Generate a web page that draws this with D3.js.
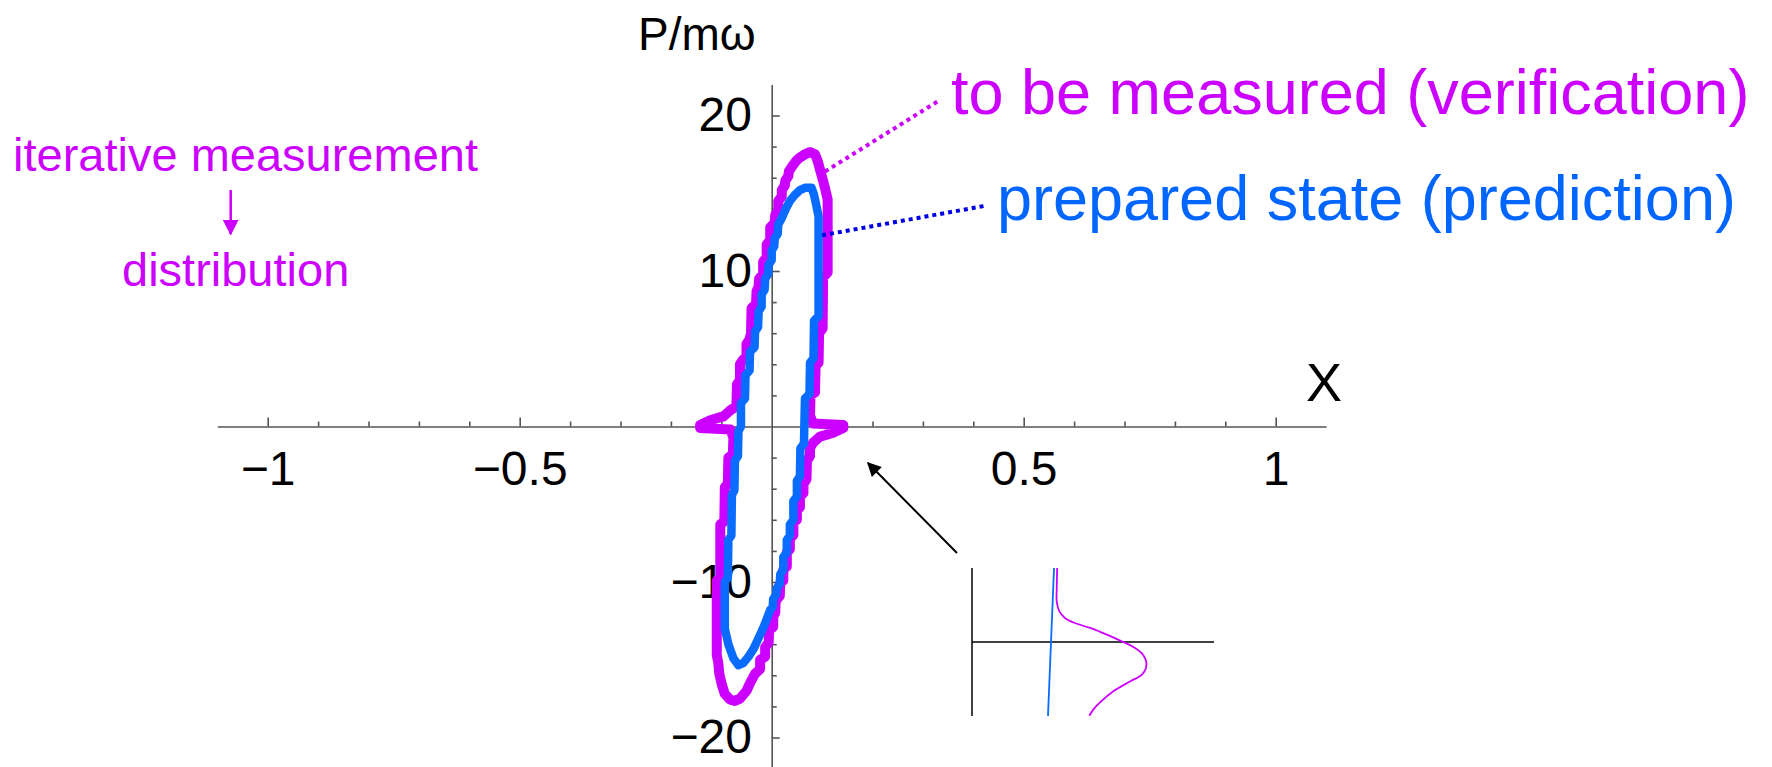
<!DOCTYPE html>
<html>
<head>
<meta charset="utf-8">
<script src="https://cdn.jsdelivr.net/npm/d3@7"></script>
<style>
  html, body { margin: 0; padding: 0; background: #fff; }
  svg { display: block; }
  text { font-family: "Liberation Sans", Arial, Helvetica, sans-serif; }
</style>
</head>
<body>
<svg id="chart" width="1772" height="767"></svg>
<script>
// ---- tick values and labels ----
const xTickValues = [-1, -0.5, 0.5, 1];
const xTickLabels = ["\u22121", "\u22120.5", "0.5", "1"];
const yTickValues = [-20, -10, 10, 20];
const yTickLabels = ["\u221220", "\u221210", "10", "20"];

// ---- prepared state (prediction): closed phase-space contour ----
const predictionX = [
  0.056, 0.066, 0.079, 0.084, 0.088, 0.093, 0.093, 0.084, 0.083, 0.076,
  0.075, 0.066, 0.064, 0.057, 0.056, 0.050, 0.050, 0.043, 0.043, 0.036,
  0.036, 0.030, 0.030, 0.023, 0.023, 0.017, 0.016, 0.010, 0.009, 0.003,
  0.002, -0.003, -0.010, -0.016, -0.026, -0.036, -0.046, -0.056, -0.066, -0.076,
  -0.086, -0.093, -0.093, -0.087, -0.086, -0.080, -0.079, -0.074, -0.073, -0.067,
  -0.066, -0.061, -0.061, -0.053, -0.052, -0.044, -0.043, -0.034, -0.033, -0.027,
  -0.026, -0.020, -0.020, -0.014, -0.013, -0.007, -0.006, 0.000, 0.000, 0.005,
  0.006, 0.012, 0.013, 0.020, 0.028, 0.036, 0.046
];
const predictionP = [
  15.2, 15.35, 15.35, 14.9, 14.3, 13.5, 7.1, 6.8, 4.4, 4.1,
  2.1, 1.8, -1.1, -1.4, -3.2, -3.5, -4.5, -4.8, -6.0, -6.3,
  -7.0, -7.3, -8.1, -8.4, -9.2, -9.5, -10.1, -10.4, -10.8, -11.1,
  -11.6, -11.8, -12.4, -12.9, -13.6, -14.3, -14.8, -15.2, -15.35, -14.9,
  -14.0, -13.0, -10.0, -9.7, -7.3, -7.0, -4.4, -4.1, -2.2, -1.9,
  -0.3, 0.0, 1.5, 1.8, 3.3, 3.6, 4.8, 5.1, 6.1, 6.4,
  7.4, 7.7, 8.5, 8.8, 9.5, 9.8, 10.4, 10.7, 11.3, 11.6,
  12.1, 12.4, 13.0, 13.4, 14.0, 14.5, 14.9
];

// ---- to be measured (verification): closed phase-space contour ----
const verificationX = [
  0.066, 0.076, 0.086, 0.091, 0.096, 0.102, 0.106, 0.111, 0.111, 0.102,
  0.101, 0.094, 0.093, 0.087, 0.086, 0.077, 0.076, 0.082, 0.142, 0.142,
  0.122, 0.096, 0.082, 0.076, 0.076, 0.070, 0.069, 0.063, 0.063, 0.056,
  0.056, 0.050, 0.050, 0.043, 0.043, 0.036, 0.036, 0.030, 0.030, 0.023,
  0.023, 0.017, 0.016, 0.008, 0.007, 0.003, 0.003, -0.005, -0.006, -0.013,
  -0.013, -0.023, -0.023, -0.033, -0.043, -0.050, -0.063, -0.073, -0.083, -0.093,
  -0.099, -0.104, -0.106, -0.109, -0.109, -0.102, -0.102, -0.094, -0.093, -0.087,
  -0.086, -0.077, -0.076, -0.082, -0.142, -0.142, -0.122, -0.096, -0.082, -0.070,
  -0.069, -0.063, -0.063, -0.057, -0.050, -0.050, -0.044, -0.041, -0.040, -0.031,
  -0.030, -0.026, -0.025, -0.017, -0.017, -0.010, -0.010, -0.003, -0.003, 0.006,
  0.007, 0.013, 0.013, 0.020, 0.020, 0.026, 0.027, 0.033, 0.034, 0.040,
  0.049, 0.056
];
const verificationP = [
  17.5, 17.65, 17.5, 17.1, 16.5, 15.8, 15.3, 14.6, 9.9, 9.6,
  6.3, 6.0, 4.1, 3.9, 2.2, 2.0, 0.7, 0.2, 0.1, -0.1,
  -0.4, -0.65, -1.05, -1.4, -1.9, -2.2, -3.4, -3.7, -4.3, -4.5,
  -5.2, -5.4, -6.0, -6.2, -7.0, -7.2, -7.9, -8.1, -9.0, -9.2,
  -9.9, -10.1, -10.9, -11.2, -12.0, -12.2, -12.9, -13.1, -13.9, -14.2,
  -14.8, -15.0, -15.6, -15.9, -16.5, -17.0, -17.5, -17.65, -17.55, -17.2,
  -16.6, -15.9, -15.2, -14.7, -9.9, -9.7, -6.3, -6.1, -3.9, -3.7,
  -2.0, -1.8, -0.7, -0.2, -0.1, 0.1, 0.4, 0.65, 1.05, 1.3,
  2.7, 3.0, 4.0, 4.3, 4.5, 5.3, 5.6, 6.0, 7.6, 7.9,
  8.7, 9.0, 9.5, 9.8, 10.6, 10.9, 11.7, 12.0, 12.8, 13.1,
  13.6, 13.9, 14.5, 14.8, 15.2, 15.5, 15.8, 16.1, 16.4, 16.7,
  17.1, 17.3
];

// ---- inset: distribution profile near the X axis ----
const insetMeasuredU = [3.52, 3.50, 3.50, 3.61, 3.84, 4.19, 4.88, 5.57, 6.25, 6.67,
                        7.01, 7.19, 7.19, 7.01, 6.53, 5.84, 5.29, 5.01, 4.85];
const insetMeasuredV = [3.0, 2.12, 1.65, 1.24, 0.97, 0.79, 0.57, 0.30, 0.0, -0.20,
                        -0.45, -0.75, -1.05, -1.33, -1.60, -2.0, -2.45, -2.74, -2.99];
const insetPreparedU = [3.39, 3.14];
const insetPreparedV = [3.0, -3.0];

// ---- colours ----
const MAGENTA = "#cc00ff";
const BLUE = "#0a6cff";
const BLUE_TEXT = "#0066ff";
const BLUE_DOTS = "#0000e6";
const AXIS = "#555";
const FONT = "'Liberation Sans', Arial, Helvetica, sans-serif";

const W = 1772, H = 767;
const svg = d3.select("#chart");
svg.append("rect").attr("width", W).attr("height", H).attr("fill", "#fff");

const defs = svg.append("defs");
defs.append("marker")
  .attr("id", "headBlack").attr("viewBox", "0 0 10 10")
  .attr("refX", 9).attr("refY", 5)
  .attr("markerWidth", 9).attr("markerHeight", 7)
  .attr("markerUnits", "strokeWidth").attr("orient", "auto")
  .append("path").attr("d", "M0,0 L10,5 L0,10 Z").attr("fill", "#000");
defs.append("marker")
  .attr("id", "headMagenta").attr("viewBox", "0 0 10 10")
  .attr("refX", 9).attr("refY", 5)
  .attr("markerWidth", 6.4).attr("markerHeight", 6.4)
  .attr("markerUnits", "strokeWidth").attr("orient", "auto")
  .append("path").attr("d", "M0,0 L10,5 L0,10 Z").attr("fill", MAGENTA);

// ---- scales ----
const x = d3.scaleLinear().domain([-1.1, 1.1]).range([217.3, 1326.1]);
const y = d3.scaleLinear().domain([-22, 22]).range([768.6, 84.4]);

const xMinor = d3.range(-10, 11).map(i => i / 10)
  .filter(v => Math.abs(v) > 1e-9 && !xTickValues.some(t => Math.abs(t - v) < 1e-9));
const yMinor = d3.range(-10, 11).map(i => i * 2)
  .filter(v => v !== 0 && !yTickValues.includes(v));

function styleAxis(g) {
  g.attr("font-family", FONT).attr("font-size", 48);
  g.selectAll("line").attr("stroke", AXIS).attr("stroke-width", 1.6);
  g.selectAll("path.domain").attr("stroke", AXIS).attr("stroke-width", 1.6);
  g.selectAll("text").attr("fill", "#000");
}

// X axis: ticks point up, labels below
const gx = svg.append("g").attr("transform", `translate(0,${y(0)})`);
gx.append("g")
  .call(d3.axisBottom(x).tickValues(xMinor).tickSize(-5).tickSizeOuter(0).tickFormat(""))
  .call(g => g.select(".domain").remove())
  .call(styleAxis);
gx.append("g")
  .call(d3.axisBottom(x).tickValues(xTickValues).tickSize(-9).tickSizeOuter(0)
    .tickPadding(24.5).tickFormat((d, i) => xTickLabels[i]))
  .call(styleAxis);

// Y axis: ticks point right, labels left
const gy = svg.append("g").attr("transform", `translate(${x(0)},0)`);
gy.append("g")
  .call(d3.axisLeft(y).tickValues(yMinor).tickSize(-5).tickSizeOuter(0).tickFormat(""))
  .call(g => g.select(".domain").remove())
  .call(styleAxis);
gy.append("g")
  .call(d3.axisLeft(y).tickValues(yTickValues).tickSize(-8).tickSizeOuter(0)
    .tickPadding(19.7).tickFormat((d, i) => yTickLabels[i]))
  .call(styleAxis);

// axis titles
svg.append("text").attr("x", 638).attr("y", 50)
  .attr("font-size", 46).attr("fill", "#000").text("P/m\u03C9");
svg.append("text").attr("x", 1306).attr("y", 401)
  .attr("font-size", 54).attr("fill", "#000").text("X");

// ---- contours ----
const loop = d3.line().x(d => x(d[0])).y(d => y(d[1])).curve(d3.curveLinearClosed);
const verification = verificationX.map((v, i) => [v, verificationP[i]]);
const prediction = predictionX.map((v, i) => [v, predictionP[i]]);

svg.append("path").datum(verification)
  .attr("d", loop).attr("fill", "none")
  .attr("stroke", MAGENTA).attr("stroke-width", 10)
  .attr("stroke-linejoin", "round").attr("stroke-linecap", "round");
svg.append("path").datum(prediction)
  .attr("d", loop).attr("fill", "none")
  .attr("stroke", BLUE).attr("stroke-width", 8.5)
  .attr("stroke-linejoin", "round").attr("stroke-linecap", "round");

// ---- dotted leaders and curve labels ----
svg.append("line")
  .attr("x1", x(0.106)).attr("y1", y(16.4)).attr("x2", x(0.334)).attr("y2", y(21.0))
  .attr("stroke", MAGENTA).attr("stroke-width", 4).attr("stroke-dasharray", "4,4");
svg.append("line")
  .attr("x1", x(0.100)).attr("y1", y(12.3)).attr("x2", x(0.425)).attr("y2", y(14.2))
  .attr("stroke", BLUE_DOTS).attr("stroke-width", 4).attr("stroke-dasharray", "4,4");

svg.append("text").attr("x", 951).attr("y", 114)
  .attr("font-size", 63).attr("fill", MAGENTA).text("to be measured (verification)");
svg.append("text").attr("x", 997).attr("y", 220)
  .attr("font-size", 63).attr("fill", BLUE_TEXT).text("prepared state (prediction)");

// ---- left note ----
svg.append("text").attr("x", 13).attr("y", 171)
  .attr("font-size", 47).attr("fill", MAGENTA).text("iterative measurement");
svg.append("text").attr("x", 122).attr("y", 286)
  .attr("font-size", 47).attr("fill", MAGENTA).text("distribution");
svg.append("line")
  .attr("x1", 230.7).attr("y1", 190).attr("x2", 230.7).attr("y2", 234)
  .attr("stroke", MAGENTA).attr("stroke-width", 2.5)
  .attr("marker-end", "url(#headMagenta)");

// ---- pointer to the inset ----
svg.append("line")
  .attr("x1", 957).attr("y1", 553).attr("x2", x(0.191)).attr("y2", y(-2.35))
  .attr("stroke", "#000").attr("stroke-width", 2)
  .attr("marker-end", "url(#headBlack)");

// ---- inset ----
const ix = d3.scaleLinear().domain([0, 10]).range([972, 1214]);
const iy = d3.scaleLinear().domain([-3, 3]).range([716, 568]);
const inset = svg.append("g");
inset.append("line").attr("x1", ix(0)).attr("x2", ix(0)).attr("y1", iy(3)).attr("y2", iy(-3))
  .attr("stroke", "#000").attr("stroke-width", 1.5);
inset.append("line").attr("x1", ix(0)).attr("x2", ix(10)).attr("y1", iy(0)).attr("y2", iy(0))
  .attr("stroke", "#000").attr("stroke-width", 1.5);
const insetLine = d3.line().x(d => ix(d[0])).y(d => iy(d[1]));
inset.append("path")
  .datum(insetPreparedU.map((u, i) => [u, insetPreparedV[i]]))
  .attr("d", insetLine).attr("fill", "none").attr("stroke", BLUE).attr("stroke-width", 1.8);
inset.append("path")
  .datum(insetMeasuredU.map((u, i) => [u, insetMeasuredV[i]]))
  .attr("d", insetLine.curve(d3.curveCatmullRom))
  .attr("fill", "none").attr("stroke", MAGENTA).attr("stroke-width", 1.8);
</script>
</body>
</html>
